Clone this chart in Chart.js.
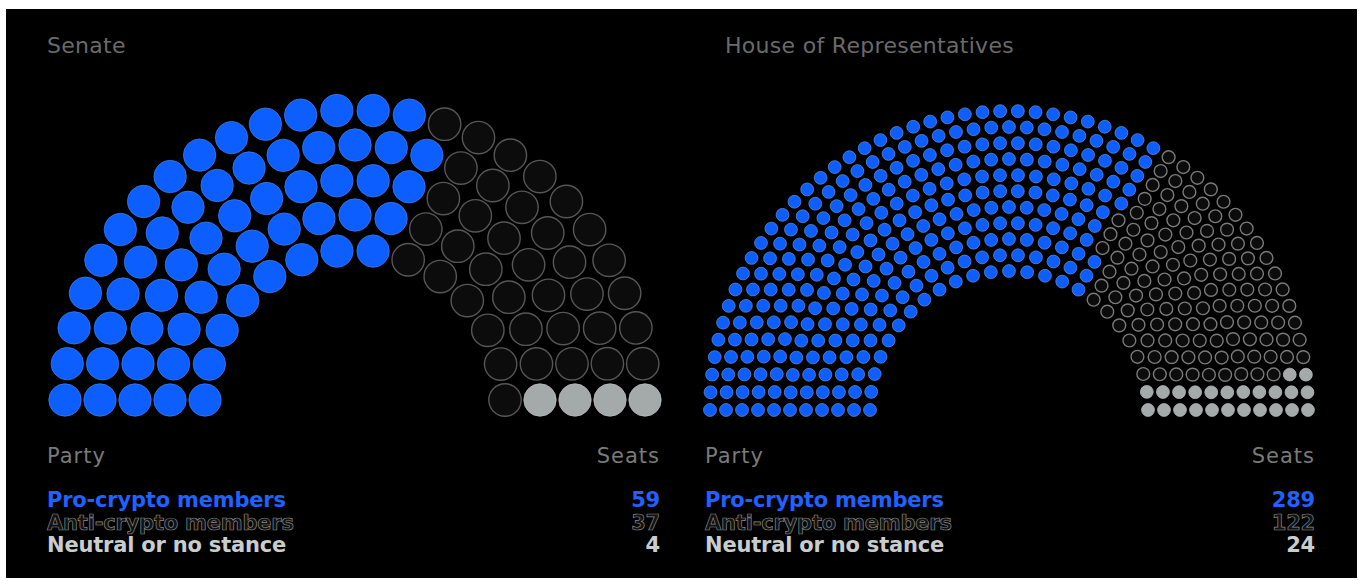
<!DOCTYPE html>
<html>
<head>
<meta charset="utf-8">
<script src="https://cdn.jsdelivr.net/npm/chart.js@4/dist/chart.umd.min.js"></script>
<style>
  html, body { margin: 0; padding: 0; background: #ffffff; }
  body { width: 1365px; height: 581px; position: relative; overflow: hidden; font-family: "DejaVu Sans", "Liberation Sans", sans-serif; }
  #panel { position: absolute; left: 6px; top: 9px; width: 1351px; height: 569px; background: #000; }
  canvas { position: absolute; }
  .title { position: absolute; top: 33px; font-size: 22px; line-height: 26px; letter-spacing: 0.3px; color: #6a6a6a; font-weight: 400; white-space: nowrap; }
  .hdr { position: absolute; top: 443px; font-size: 21px; line-height: 26px; letter-spacing: 1px; color: #7a7a7a; white-space: nowrap; }
  .row { position: absolute; font-size: 21px; line-height: 24px; font-weight: 700; letter-spacing: -0.2px; white-space: nowrap; }
  .pro { color: #1f62ff; }
  .anti { color: #121212; -webkit-text-stroke: 0.7px #8a8a8a; }
  .neu { color: #c9cdcd; }
  .r { text-align: right; }
</style>
</head>
<body>
<div id="panel"></div>
<canvas id="senate" width="660" height="340" style="left:25px;top:80px;width:660px;height:340px"></canvas>
<canvas id="house" width="640" height="350" style="left:690px;top:80px;width:640px;height:350px"></canvas>
<div id="labels"></div>
<script>
// ---- data ----
const chamberTitles = ["Senate", "House of Representatives"];
const parties = ["Pro-crypto members", "Anti-crypto members", "Neutral or no stance"];
const senateSeats = [59, 37, 4];
const houseSeats = [289, 122, 24];
const tableHeaders = ["Party", "Seats"];

// ---- styles ----
const fillColors = ["#0d5eff", "#0c0c0c", "#a3aaa9"];
const rowClasses = ["pro", "anti", "neu"];

// ---- parliament layout (seats on concentric rings, assigned by angle) ----
function parliament(counts, rings, innerR, outerR) {
  const total = counts.reduce((a, b) => a + b, 0);
  const radii = [];
  for (let i = 0; i < rings; i++) radii.push(innerR + (outerR - innerR) * i / (rings - 1));
  const sumR = radii.reduce((a, b) => a + b, 0);
  const exact = radii.map(r => total * r / sumR);
  const n = exact.map(Math.floor);
  let left = total - n.reduce((a, b) => a + b, 0);
  const order = exact.map((e, i) => [e - Math.floor(e), i]).sort((a, b) => b[0] - a[0]);
  for (let k = 0; k < left; k++) n[order[k][1]]++;
  const seats = [];
  radii.forEach((r, i) => {
    for (let k = 0; k < n[i]; k++) {
      const a = Math.PI - Math.PI * k / (n[i] - 1);
      seats.push({ x: r * Math.cos(a), y: r * Math.sin(a), a: a, ring: i });
    }
  });
  seats.sort((p, q) => (q.a - p.a) > 1e-9 ? 1 : (p.a - q.a) > 1e-9 ? -1 : p.ring - q.ring);
  let idx = 0;
  counts.forEach((c, p) => { for (let k = 0; k < c; k++) seats[idx++].party = p; });
  return seats;
}

function makeChart(id, counts, rings, innerR, outerR, xr, yr, radius, borderGrey, blueEdge) {
  const seats = parliament(counts, rings, innerR, outerR);
  new Chart(document.getElementById(id), {
    type: 'scatter',
    data: {
      datasets: [{
        data: seats.map(s => ({ x: s.x, y: s.y })),
        pointRadius: radius,
        pointHoverRadius: radius,
        pointBackgroundColor: seats.map(s => fillColors[s.party]),
        pointBorderColor: seats.map(s => s.party === 0 ? blueEdge : s.party === 1 ? borderGrey : "#b4baba"),
        pointBorderWidth: seats.map(s => s.party === 1 ? 1.4 : 0.8),
        clip: false
      }]
    },
    options: {
      responsive: false,
      animation: false,
      events: [],
      layout: { padding: 0, autoPadding: false },
      plugins: { legend: { display: false }, tooltip: { enabled: false } },
      scales: {
        x: { type: 'linear', min: xr[0], max: xr[1], display: false },
        y: { type: 'linear', min: yr[0], max: yr[1], display: false }
      }
    }
  });
}

makeChart('senate', senateSeats, 5, 150, 290, [-330, 330], [-20, 320], 16.2, "#565656", "#3f77e6");
makeChart('house', houseSeats, 11, 139, 299, [-319, 321], [-20, 330], 6.4, "#7a7a7a", "#5f86d6");

// ---- text ----
const lab = document.getElementById('labels');
function addDiv(cls, text, style) {
  const d = document.createElement('div');
  d.className = cls; d.textContent = text; d.setAttribute('style', style);
  lab.appendChild(d);
}
const panels = [
  { title: chamberTitles[0], tx: 47, left: 47, right: 660, counts: senateSeats },
  { title: chamberTitles[1], tx: 725, left: 705, right: 1315, counts: houseSeats }
];
panels.forEach(p => {
  addDiv('title', p.title, 'left:' + p.tx + 'px');
  addDiv('hdr', tableHeaders[0], 'left:' + p.left + 'px');
  addDiv('hdr r', tableHeaders[1], 'left:' + (p.right - 200) + 'px;width:200px');
  parties.forEach((name, i) => {
    const top = 488 + i * 22.5;
    addDiv('row ' + rowClasses[i], name, 'left:' + p.left + 'px;top:' + top + 'px');
    addDiv('row r ' + rowClasses[i], String(p.counts[i]), 'left:' + (p.right - 200) + 'px;top:' + top + 'px;width:200px');
  });
});
</script>
</body>
</html>
